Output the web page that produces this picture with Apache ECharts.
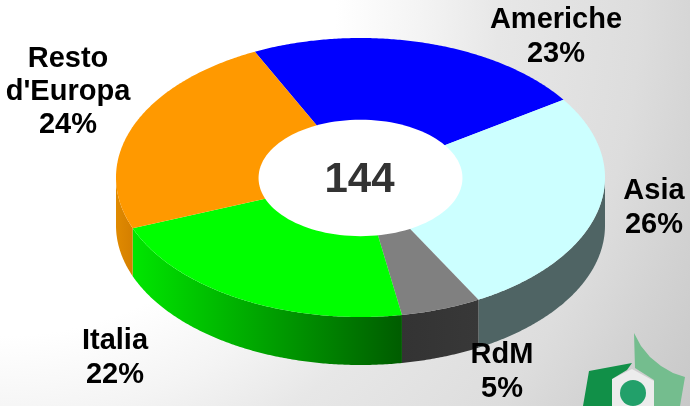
<!DOCTYPE html>
<html>
<head>
<meta charset="utf-8">
<style>html,body{margin:0;padding:0;background:#fff}#c{width:690px;height:406px}</style>
<script src="https://cdn.jsdelivr.net/npm/echarts@6/dist/echarts.min.js"></script>
</head>
<body>
<div id="c"></div>
<script>
// Data, clockwise from the Americhe slice (shares in %)
const categories = ['Americhe', 'Asia', 'RdM', 'Italia', "Resto\nd'Europa"];
const values = [22.7, 26.4, 5.3, 21.8, 23.8];
const centreLabel = '144';
const faceColors = ['#0000ff', '#ccffff', '#808080', '#00ff00', '#ff9900'];
const wallLeftColors = ['#000080', '#4f6464', '#333333', '#00e600', '#e08a00'];
const wallRightColors = ['#000080', '#4f6464', '#383838', '#005c00', '#d47f00'];
const labelCentres = [[556, 37], [654, 208], [502, 372], [115, 358], [68, 92]];

// Pie geometry
const cx = 360.5, cy = 177.5, rx = 244.5, ry = 139.5, depth = 48, holeRatio = 0.417;
const startAngle = -25.6;
const total = values.reduce((a, b) => a + b, 0);
const rad = d => d * Math.PI / 180;
const px = (d, k) => cx + rx * k * Math.sin(rad(d));
const py = (d, k) => cy - ry * k * Math.cos(rad(d));
const arc = (a, b, k, dy) => {
  const pts = [], n = Math.max(2, Math.ceil(Math.abs(b - a) * 2));
  for (let i = 0; i <= n; i++) {
    const t = a + (b - a) * i / n;
    pts.push([px(t, k), py(t, k) + dy]);
  }
  return pts;
};
const angleBefore = i => startAngle + values.slice(0, i).reduce((s, v) => s + v, 0) / total * 360;

function renderSlice(params, api) {
  const i = params.dataIndex;
  const a0 = angleBefore(i);
  const a1 = a0 + api.value(0) / total * 360;
  const children = [];
  // visible outer wall: lower half only
  const w0 = Math.max(a0, 90), w1 = Math.min(a1, 270);
  if (w1 > w0) {
    const top = arc(w0, w1, 1, 0);
    const bottom = arc(w1, w0, 1, depth);
    const xs = top.map(p => p[0]);
    children.push({
      type: 'polygon',
      shape: { points: top.concat(bottom) },
      style: {
        fill: {
          type: 'linear', global: true,
          x: Math.min.apply(null, xs), y: 0, x2: Math.max.apply(null, xs), y2: 0,
          colorStops: [
            { offset: 0, color: wallLeftColors[i] },
            { offset: 1, color: wallRightColors[i] }
          ]
        }
      }
    });
  }
  // top face
  children.push({
    type: 'polygon',
    shape: { points: [[cx, cy]].concat(arc(a0, a1, 1, 0)) },
    style: { fill: faceColors[i] }
  });
  return { type: 'group', children };
}

function renderLabel(params, api) {
  const i = params.dataIndex;
  const pct = Math.round(api.value(0) / total * 100);
  return {
    type: 'text',
    z2: 10,
    style: {
      x: labelCentres[i][0], y: labelCentres[i][1],
      text: categories[i] + '\n' + pct + '%',
      align: 'center', verticalAlign: 'middle',
      font: 'bold 29px "Liberation Sans", Arial, sans-serif',
      lineHeight: 33.3, fill: '#000'
    }
  };
}

function renderCentre() {
  return {
    type: 'group',
    children: [
      { type: 'ellipse', shape: { cx, cy: cy + 0.5, rx: rx * holeRatio, ry: ry * holeRatio }, style: { fill: '#fff' } },
      { type: 'text', style: { x: cx - 1, y: cy + 2.5, text: centreLabel, align: 'center', verticalAlign: 'middle',
        font: 'bold 42px "Liberation Sans", Arial, sans-serif', fill: '#333' } }
    ]
  };
}

const chart = echarts.init(document.getElementById('c'), null, { renderer: 'canvas' });
chart.setOption({
  animation: false,
  backgroundColor: {
    type: 'radial', global: true, x: 0, y: 0, r: 800,
    colorStops: [
      { offset: 0, color: '#ffffff' },
      { offset: 0.42, color: '#ffffff' },
      { offset: 0.525, color: '#f4f4f4' },
      { offset: 0.625, color: '#e7e7e7' },
      { offset: 0.8, color: '#dddddd' },
      { offset: 0.89, color: '#d3d3d3' },
      { offset: 1, color: '#c8c8c8' }
    ]
  },
  graphic: [
    { type: 'polygon', silent: true, shape: { points: [[612, 379], [632, 369], [654, 381], [654, 406], [612, 406]] }, style: { fill: '#ececec' } },
    { type: 'polygon', silent: true, shape: { points: [[634, 333], [641, 346], [650, 357], [661, 366], [673, 373], [685, 377], [680, 406], [654, 406], [654, 380], [635, 368]] }, style: { fill: '#74bd8e' } },
    { type: 'polygon', silent: true, shape: { points: [[589, 371], [632, 363], [627, 370], [612, 379], [612, 406], [583, 406]] }, style: { fill: '#119048' } },
    { type: 'circle', silent: true, shape: { cx: 633, cy: 393, r: 13 }, style: { fill: '#22a06a' } }
  ],
  series: [
    { type: 'custom', coordinateSystem: 'none', silent: true, z: 2, renderItem: renderSlice, data: values.map(v => [v]) },
    { type: 'custom', coordinateSystem: 'none', silent: true, z: 3, renderItem: renderCentre, data: [[total]] },
    { type: 'custom', coordinateSystem: 'none', silent: true, z: 4, renderItem: renderLabel, data: values.map(v => [v]) }
  ]
});
</script>
</body>
</html>
